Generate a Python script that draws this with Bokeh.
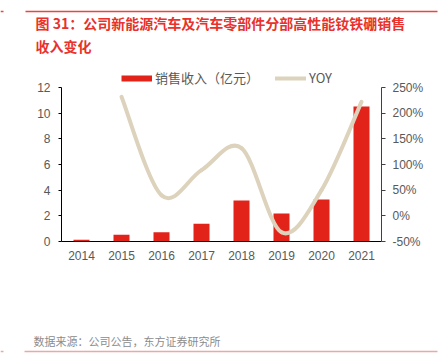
from bokeh.plotting import figure
from bokeh.models import (Range1d, LinearAxis, FixedTicker, PrintfTickFormatter,
                          Legend, LegendItem, ColumnDataSource)
from bokeh.core.properties import value
from bokeh.embed import file_html
from bokeh.resources import INLINE

years = ["2014", "2015", "2016", "2017", "2018", "2019", "2020", "2021"]
revenue = [0.13, 0.52, 0.73, 1.38, 3.20, 2.18, 3.27, 10.52]
yoy_years = ["2015", "2016", "2017", "2018", "2019", "2020", "2021"]
yoy = [232, 40, 89, 132, -32, 50, 222]
left_ticks = [0, 2, 4, 6, 8, 10, 12]
right_ticks = [-50, 0, 50, 100, 150, 200, 250]

title1 = "图 31：公司新能源汽车及汽车零部件分部高性能钕铁硼销售"
title2 = "收入变化"
source_txt = "数据来源：公司公告，东方证券研究所"
legend_labels = ["销售收入（亿元）", "YOY"]

BAR = "#E2231A"
LINE = "#DDD3BC"
GREY = "#595959"
RED = "#E8322B"
NUM_FONT = "Liberation Sans"
CJK = "Noto Sans CJK SC"

# canvas and plot-area placement (pixels)
W, H = 442, 354
PL, PR, PT, PB = 61, 381, 87, 241

NX = len(years)
Y0, Y1 = 0, 12
R0, R1 = -50, 250


def extend(lo, hi, a, b, total):
    # data range [lo, hi] occupies pixels [a, b] of a span of `total` pixels
    k = (hi - lo) / (b - a)
    return lo - a * k, hi + (total - b) * k


xr = extend(0, NX, PL, PR, W)
yr = extend(Y0, Y1, H - PB, H - PT, H)
rr = extend(R0, R1, H - PB, H - PT, H)

p = figure(width=W, height=H, output_backend="svg", toolbar_location=None,
           x_range=Range1d(*xr), y_range=Range1d(*yr),
           x_axis_location=None, y_axis_location=None,
           min_border=0, min_border_left=0, min_border_right=0,
           min_border_top=0, min_border_bottom=0)
p.outline_line_color = None
p.grid.visible = False
p.background_fill_color = "white"
p.border_fill_color = "white"
p.extra_y_ranges = {"yoy": Range1d(*rr), "py": Range1d(H, 0)}
p.extra_x_ranges = {"px": Range1d(0, W)}

xpos = {y: i + 0.5 for i, y in enumerate(years)}

src = ColumnDataSource(dict(x=[xpos[y] for y in years], top=revenue))
p.vbar(x="x", top="top", width=0.4, source=src, fill_color=BAR, line_color=None)

# smooth YOY curve (Catmull-Rom style Bezier through the data points)
xs = [xpos[y] for y in yoy_years]
ys = list(yoy)
n = len(xs)
seg = dict(x0=[], y0=[], x1=[], y1=[], cx0=[], cy0=[], cx1=[], cy1=[])
for i in range(n - 1):
    i0 = max(i - 1, 0)
    i3 = min(i + 2, n - 1)
    seg["x0"].append(xs[i]); seg["y0"].append(ys[i])
    seg["x1"].append(xs[i + 1]); seg["y1"].append(ys[i + 1])
    seg["cx0"].append(xs[i] + (xs[i + 1] - xs[i0]) / 6)
    seg["cy0"].append(ys[i] + (ys[i + 1] - ys[i0]) / 6)
    seg["cx1"].append(xs[i + 1] - (xs[i3] - xs[i]) / 6)
    seg["cy1"].append(ys[i + 1] - (ys[i3] - ys[i]) / 6)
p.bezier(x0="x0", y0="y0", x1="x1", y1="y1", cx0="cx0", cy0="cy0", cx1="cx1", cy1="cy1",
         source=ColumnDataSource(seg), line_color=LINE, line_width=4, line_cap="round",
         y_range_name="yoy")

# legend (proxy renderers: a single point draws no visible line)
leg_bar = p.line(x=[0], y=[Y0], line_color=BAR, line_width=6, line_cap="butt")
leg_line = p.line(x=[0], y=[Y0], line_color=LINE, line_width=4, line_cap="round")
legend = Legend(items=[LegendItem(label=legend_labels[0], renderers=[leg_bar]),
                       LegendItem(label=legend_labels[1], renderers=[leg_line])],
                orientation="horizontal", location=(121, H - 87),
                padding=0, margin=0, spacing=16, glyph_width=31, glyph_height=14,
                label_height=14, label_standoff=3,
                border_line_alpha=0, background_fill_alpha=0,
                label_text_font=CJK, label_text_font_size="13px",
                label_text_color=GREY)
p.add_layout(legend)

# axes, pinned to the plot area
xa = LinearAxis(fixed_location=Y0, bounds=(0, NX),
                ticker=FixedTicker(ticks=[xpos[y] for y in years]))
xa.major_label_overrides = {xpos[y]: y for y in years}
xa.major_tick_out = 0
xa.major_tick_in = 0
xa.minor_tick_out = 0
xa.minor_tick_in = 0
xa.axis_line_color = "#000000"
xa.major_label_text_font = NUM_FONT
xa.major_label_text_font_size = "12px"
xa.major_label_text_color = GREY
xa.major_label_standoff = 9
p.add_layout(xa, "below")

ya = LinearAxis(fixed_location=0, bounds=(Y0, Y1), ticker=FixedTicker(ticks=left_ticks))
ya.major_tick_out = 3
ya.major_tick_in = 0
ya.minor_tick_out = 0
ya.minor_tick_in = 0
ya.axis_line_color = "#000000"
ya.major_tick_line_color = "#000000"
ya.major_label_text_font = NUM_FONT
ya.major_label_text_font_size = "12px"
ya.major_label_text_color = GREY
ya.major_label_standoff = 8
p.add_layout(ya, "left")

ra = LinearAxis(y_range_name="yoy", fixed_location=NX, bounds=(R0, R1),
                ticker=FixedTicker(ticks=right_ticks),
                formatter=PrintfTickFormatter(format="%d%%"))
ra.major_tick_out = 4
ra.major_tick_in = 0
ra.minor_tick_out = 0
ra.minor_tick_in = 0
ra.axis_line_color = "#404040"
ra.major_tick_line_color = "#404040"
ra.major_label_text_font = NUM_FONT
ra.major_label_text_font_size = "12px"
ra.major_label_text_color = GREY
ra.major_label_standoff = 7
p.add_layout(ra, "right")

# header / footer decorations in pixel coordinates
p.segment(x0=[0, 25], y0=[11, 11], x1=[3, 437], y1=[11, 11],
          line_color="#E8463F", line_width=1.5, x_range_name="px", y_range_name="py")
p.segment(x0=[0, 24], y0=[351, 351], x1=[3, 437], y1=[351, 351],
          line_color="#EBA9A6", line_width=1.5, x_range_name="px", y_range_name="py")
p.text(x=[35, 35], y=[22, 45], text=[title1, title2], text_baseline="middle",
       text_align="left", text_font=value(CJK), text_font_style="bold",
       text_font_size="14px", text_color=RED, x_range_name="px", y_range_name="py")
p.text(x=[33], y=[340], text=[source_txt], text_baseline="middle", text_align="left",
       text_font=value(CJK), text_font_size="11px", text_color="#8C8C8C",
       x_range_name="px", y_range_name="py")

open("out.html", "w").write(file_html(p, INLINE))
